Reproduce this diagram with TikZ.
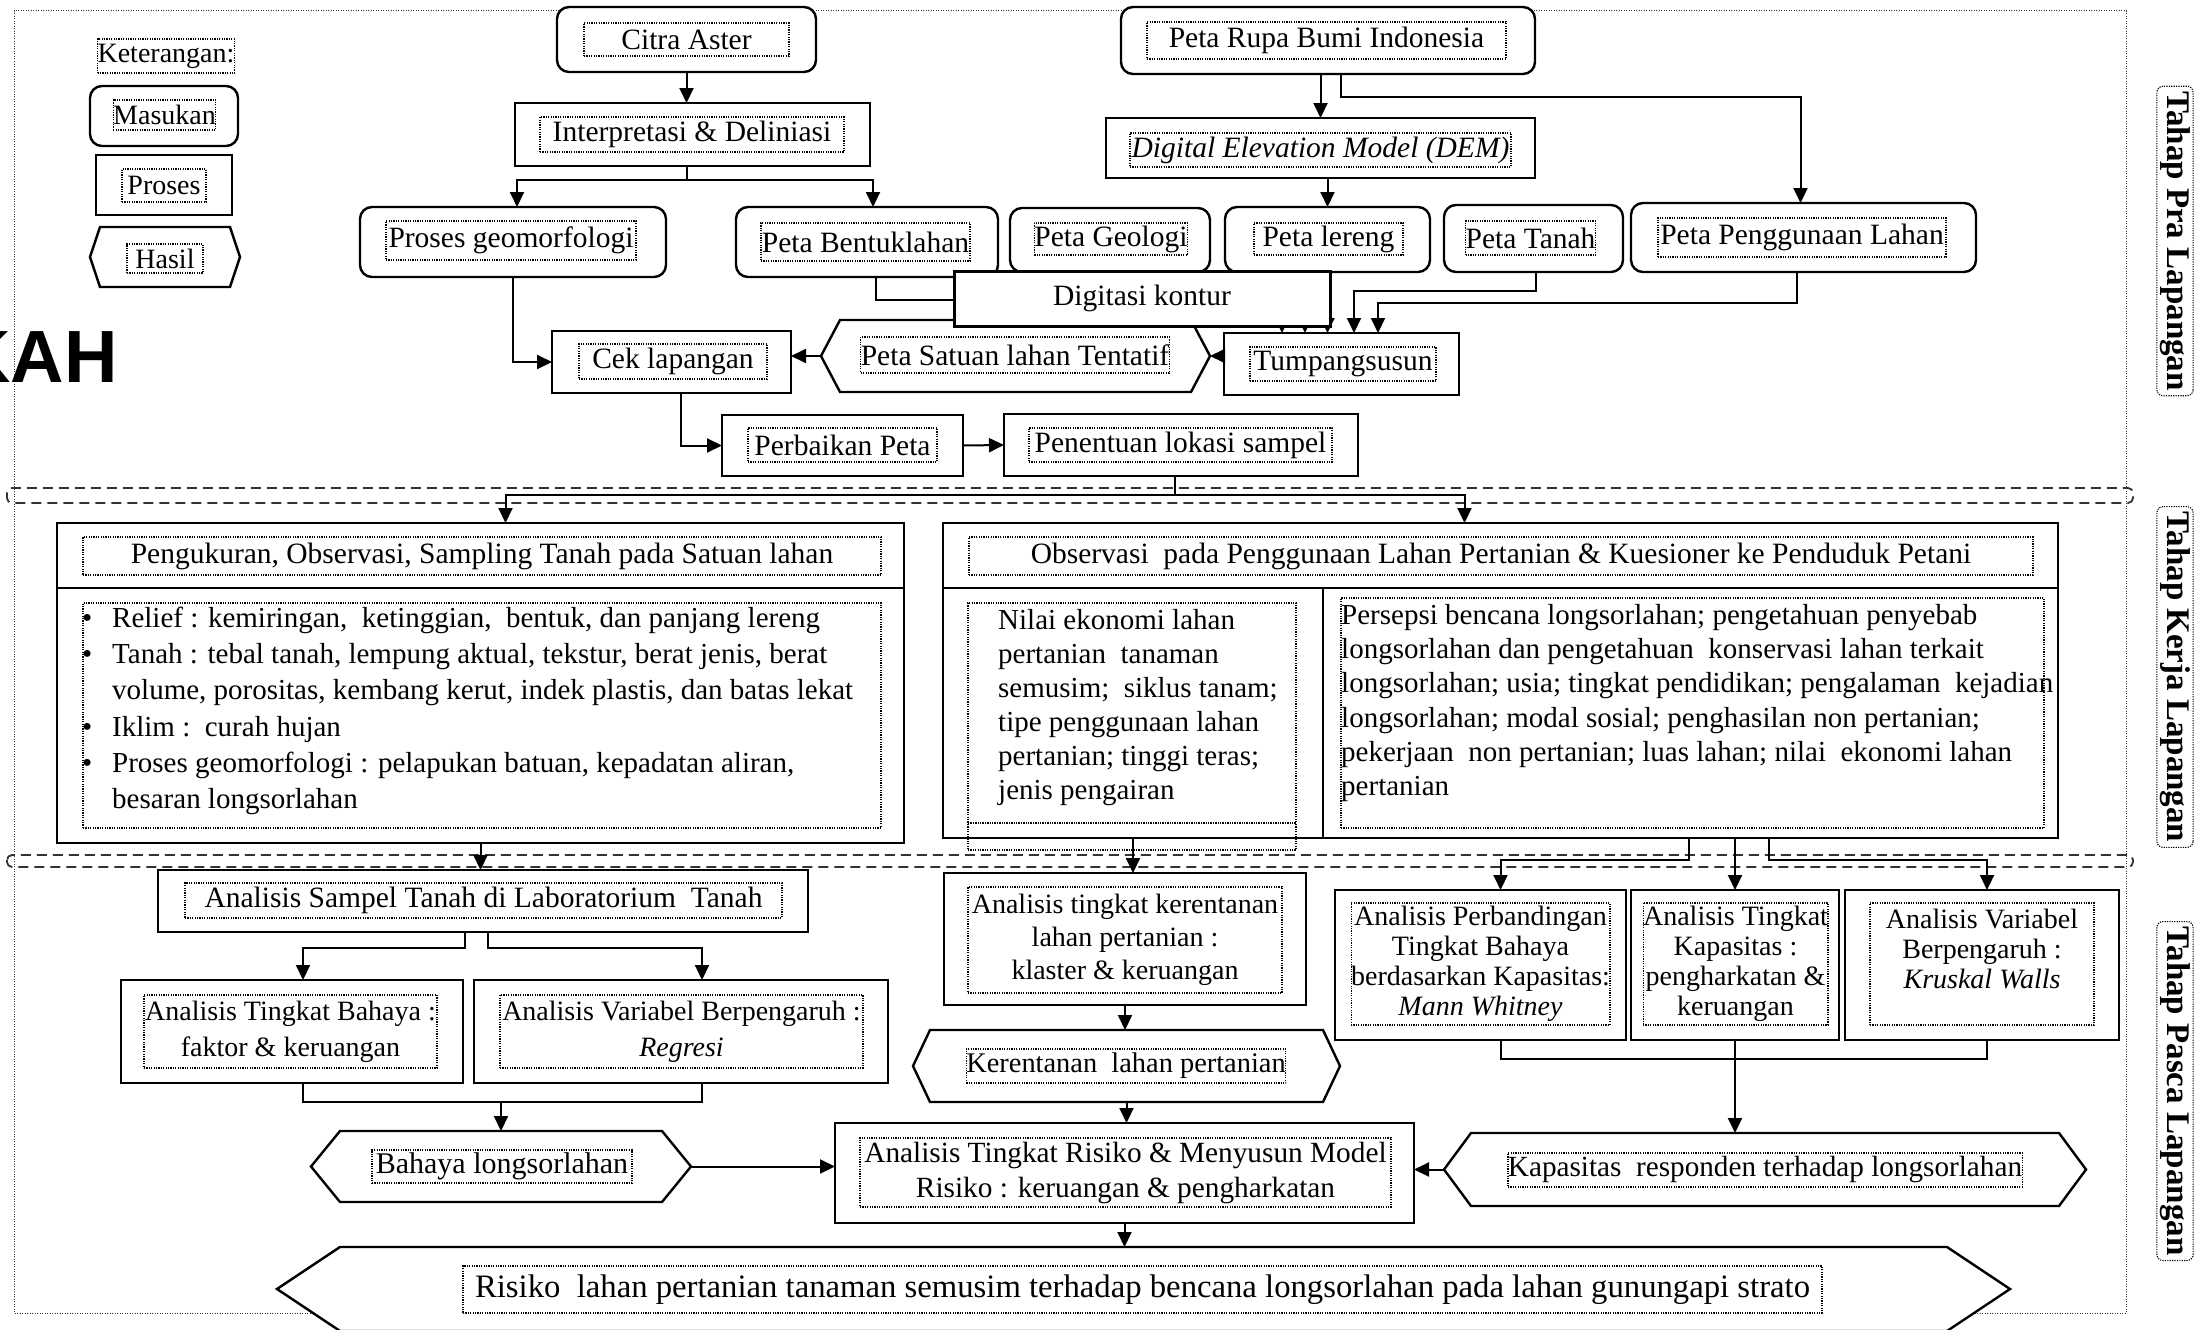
\documentclass[tikz,border=0pt]{standalone}
\usepackage{fontspec}
\setmainfont{Liberation Serif}
\newfontfamily\kahfont{Liberation Sans}
\usetikzlibrary{arrows.meta,calc}
\newcommand\fs{\fontsize{29.5}{35}\selectfont}
\newcommand\fsm{\fontsize{28}{34}\selectfont}
\newcommand\hexa[2]{\filldraw[fill=white, line width=2.4pt, line join=miter] (#1.west) -- ([xshift=#2]#1.north west) -- ([xshift=-#2]#1.north east) -- (#1.east) -- ([xshift=-#2]#1.south east) -- ([xshift=#2]#1.south west) -- cycle;}
\begin{document}
\begin{tikzpicture}[x=1pt,y=-1pt,
  bx/.style args={#1/#2/#3/#4}{at={({(#1+#3)/2},{(#2+#4)/2})}, minimum width={(#3)-(#1)}, minimum height={(#4)-(#2)}},
  ob/.style={draw, line width=2.4pt, inner sep=0pt, outer sep=0pt, fill=white},
  rb/.style={ob, rounded corners=12pt},
  hx/.style={inner sep=0pt, outer sep=0pt},
  tf/.style={draw, line width=1.1pt, dash pattern=on 1.2pt off 1.2pt, inner sep=0pt, outer sep=0pt, align=center, font=\fs},
  arr/.style={line width=2pt, -{Triangle[length=15pt,width=14pt]}},
  ln/.style={line width=2pt},
  sepl/.style={line width=1.8pt, dash pattern=on 10pt off 6pt, rounded corners=5pt, black!80},
  bord/.style={line width=1pt, dash pattern=on 1pt off 1.5pt, black!80},
  txt/.style={inner sep=0pt, align=left, anchor=west}
]
\useasboundingbox (0,0) rectangle (2200,1330);
\fill[white] (0,0) rectangle (2200,1330);

% frame and section separators
\draw[bord] (14,11) rectangle (2126,1313);
\draw[sepl] (7,488) rectangle (2133,503);
\draw[sepl] (7,855) rectangle (2133,867);

\begin{scope}
\clip (0,0) rectangle (2200,1330);
\node[font=\kahfont\bfseries\fontsize{74}{74}\selectfont, anchor=base east, inner sep=0pt] (kah) at (118,382) {KAH};
\end{scope}

% section labels
\foreach \nm/\yy/\tt in {tp1/241/{Tahap Pra Lapangan}, tp2/677/{Tahap Kerja Lapangan}, tp3/1091/{Tahap Pasca Lapangan}}
  \node[draw, line width=1.1pt, dash pattern=on 1.2pt off 1.2pt, rounded corners=6pt, rotate=-90,
        font=\bfseries\fontsize{33}{33}\selectfont, inner xsep=5pt, inner ysep=3pt] (\nm) at (2175,\yy) {\tt};

% legend
\node[tf, font=\fsm, bx=98/39/234/73] (ket) {Keterangan:};
\node[rb, bx=90/86/238/146] (lgm) {};
\node[tf, font=\fsm, bx=118/100/211/130] (lgm-t) {Masukan};
\node[ob, bx=96/155/232/215] (lgp) {};
\node[tf, font=\fsm, bx=122/169/206/202] (lgp-t) {Proses};
\node[hx, bx=90/227/240/287] (lgh) {}; \hexa{lgh}{10pt}
\node[tf, font=\fsm, bx=127/244/203/273] (lgh-t) {Hasil};

% top part
\node[rb, bx=557/7/816/72] (citra) {};
\node[tf, bx=584/23/789/56] (citra-t) {Citra Aster};
\node[ob, bx=515/103/870/166] (interp) {};
\node[tf, bx=540/117/844/152] (interp-t) {Interpretasi \& Deliniasi};
\node[rb, bx=360/207/666/277] (prosgeo) {};
\node[tf, bx=386/221/636/260] (prosgeo-t) {Proses geomorfologi};
\node[rb, bx=736/207/998/277] (bentuk) {};
\node[tf, bx=761/223/970/261] (bentuk-t) {Peta Bentuklahan};
\node[rb, bx=1010/208/1210/272] (geologi) {};
\node[tf, bx=1037/223/1185/255] (geologi-t) {Peta Geologi};
\node[rb, bx=1225/207/1430/272] (lereng) {};
\node[tf, bx=1254/223/1403/255] (lereng-t) {Peta lereng};
\node[rb, bx=1444/205/1623/272] (tanah) {};
\node[tf, bx=1466/221/1595/255] (tanah-t) {Peta Tanah};
\node[rb, bx=1631/203/1976/272] (guna) {};
\node[tf, bx=1658/218/1946/257] (guna-t) {Peta Penggunaan Lahan};
\node[rb, bx=1121/7/1535/74] (rbi) {};
\node[tf, bx=1147/22/1506/59] (rbi-t) {Peta Rupa Bumi Indonesia};
\node[ob, bx=1106/118/1535/178] (dem) {};
\node[tf, bx=1130/133/1511/167] (dem-t) {\textit{Digital Elevation Model (DEM)}};
\node[ob, bx=1224/333/1459/395] (tumpang) {};
\node[tf, bx=1250/347/1436/381] (tumpang-t) {Tumpangsusun};
\node[hx, bx=821/320/1210/392] (satuan) {}; \hexa{satuan}{19pt}
\node[tf, bx=881/337/1149/373] (satuan-t) {Peta Satuan lahan Tentatif};
\node[ob, bx=552/331/791/393] (cek) {};
\node[tf, bx=579/344/767/379] (cek-t) {Cek lapangan};
\node[ob, bx=722/415/963/476] (perbaikan) {};
\node[tf, bx=748/428/937/462] (perbaikan-t) {Perbaikan Peta};
\node[ob, bx=1004/414/1358/476] (penentuan) {};
\node[tf, bx=1029/428/1332/462] (penentuan-t) {Penentuan lokasi sampel};

% top connectors
\draw[arr] (citra.south) -- (citra.south |- interp.north);
\draw[ln] (citra.south |- interp.south) -- ++(0,14) coordinate (j1);
\draw[arr] (j1) -| ([xshift=4pt]prosgeo.north);
\draw[arr] (j1) -| ([xshift=6pt]bentuk.north);
\draw[arr] (rbi.south -| dem.north) -- (dem.north);
\draw[arr] ([xshift=13pt]rbi.south) -- ++(0,23) -| ([xshift=-3pt]guna.north);
\draw[arr] (dem.south -| lereng.north) -- (lereng.north);
\draw[arr] ([xshift=9pt]bentuk.south) -- ++(0,23) -| ([xshift=58pt]tumpang.north west);
\draw[arr] (geologi.south) -- ++(0,36) -| ([xshift=81pt]tumpang.north west);
\draw[arr] (lereng.south) -- (lereng.south |- tumpang.north);
\draw[arr] ([xshift=2pt]tanah.south) -- ++(0,19) -| ([xshift=130pt]tumpang.north west);
\draw[arr] ([xshift=-7pt]guna.south) -- ++(0,31) -| ([xshift=154pt]tumpang.north west);
\draw[arr] (tumpang.west |- satuan.east) -- (satuan.east);
\draw[arr] (satuan.west) -- (satuan.west -| cek.east);
\draw[arr] (prosgeo.south) |- (cek.west);
\draw[arr] ([xshift=9pt]cek.south) |- (perbaikan.west);
\draw[arr] (perbaikan.east) -- (penentuan.west);

\node[ob, line width=3pt, bx=954/271/1330/326, font=\fs] (digit) {Digitasi kontur};

% field work part
\node[ob, bx=57/523/904/588] (peng) {};
\node[ob, bx=57/588/904/843] (pengb) {};
\node[tf, bx=83/537/881/575] (peng-t) {Pengukuran, Observasi, Sampling Tanah pada Satuan lahan};
\node[tf, bx=83/603/881/828] (pengb-f) {};
\node[txt, font=\fontsize{29}{36.2}\selectfont] (pengb-t) at (82,711) {%
\makebox[30pt][l]{\textbullet}Relief : kemiringan,\ \ ketinggian,\ \ bentuk, dan panjang lereng\\
\makebox[30pt][l]{\textbullet}Tanah : tebal\ tanah, lempung aktual, tekstur, berat jenis, berat\\
\hspace*{30pt}volume, porositas, kembang kerut, indek plastis, dan batas lekat\\
\makebox[30pt][l]{\textbullet}Iklim :\ \ curah hujan\\
\makebox[30pt][l]{\textbullet}Proses geomorfologi : pelapukan\ batuan, kepadatan\ aliran,\\
\hspace*{30pt}besaran longsorlahan};

\node[ob, bx=943/523/2058/588] (obs) {};
\node[ob, bx=943/588/1323/838] (obsl) {};
\node[ob, bx=1323/588/2058/838] (obsr) {};
\node[tf, bx=969/537/2033/575] (obs-t) {Observasi\ \ pada Penggunaan Lahan Pertanian \& Kuesioner ke Penduduk Petani};
\node[tf, bx=968/603/1296/823] (obsl-f) {};
\node[tf, bx=968/823/1296/850] (obsl-g) {};
\node[txt, font=\fontsize{29}{34}\selectfont] (obsl-t) at (998,708) {Nilai ekonomi lahan\\pertanian\ \ tanaman\\semusim;\ \ siklus tanam;\\tipe penggunaan lahan\\pertanian; tinggi teras;\\jenis pengairan};
\node[tf, bx=1341/598/2044/828] (obsr-f) {};
\node[txt, font=\fontsize{29}{34.2}\selectfont] (obsr-t) at (1341,703) {Persepsi bencana longsorlahan; pengetahuan penyebab\\longsorlahan dan pengetahuan\ \ konservasi lahan terkait\\longsorlahan; usia; tingkat pendidikan; pengalaman\ \ kejadian\\longsorlahan; modal sosial; penghasilan non pertanian;\\pekerjaan\ \ non pertanian; luas lahan; nilai\ \ ekonomi lahan\\pertanian};

% post field part
\node[ob, bx=158/870/808/932] (asam) {};
\node[tf, bx=185/883/782/918] (asam-t) {Analisis Sampel Tanah di Laboratorium\ \ Tanah};
\node[ob, bx=121/980/463/1083] (bahayaA) {};
\node[tf, bx=144/995/437/1068, font=\fontsize{28}{36}\selectfont] (bahayaA-t) {Analisis Tingkat Bahaya :\\faktor \& keruangan};
\node[ob, bx=474/980/888/1083] (varA) {};
\node[tf, bx=500/995/863/1068, font=\fontsize{28}{36}\selectfont] (varA-t) {Analisis Variabel Berpengaruh :\\\textit{Regresi}};
\node[hx, bx=311/1131/691/1202] (bahaya) {}; \hexa{bahaya}{29pt}
\node[tf, bx=372/1150/632/1183, font=\fontsize{30}{35}\selectfont] (bahaya-t) {Bahaya longsorlahan};
\node[ob, bx=835/1123/1414/1223] (risk) {};
\node[tf, bx=860/1138/1391/1207, font=\fontsize{29.3}{35}\selectfont] (risk-t) {Analisis Tingkat Risiko \& Menyusun Model\\Risiko : keruangan \& pengharkatan};
\node[ob, bx=944/873/1306/1005] (kerent) {};
\node[tf, bx=968/887/1282/993, font=\fontsize{28}{33}\selectfont] (kerent-t) {Analisis tingkat kerentanan\\lahan pertanian :\\klaster \& keruangan};
\node[hx, bx=913/1030/1340/1102] (kerhex) {}; \hexa{kerhex}{17pt}
\node[tf, bx=974/1049/1278/1083, font=\fontsize{28.4}{34}\selectfont] (kerhex-t) {Kerentanan\ \ lahan pertanian};
\node[ob, bx=1335/890/1626/1040] (banding) {};
\node[tf, bx=1362/903/1599/1025, font=\fontsize{28}{30}\selectfont] (banding-t) {Analisis Perbandingan\\Tingkat Bahaya\\berdasarkan Kapasitas:\\\textit{Mann Whitney}};
\node[ob, bx=1631/890/1839/1040] (kapas) {};
\node[tf, bx=1658/903/1813/1025, font=\fontsize{28}{30}\selectfont] (kapas-t) {Analisis Tingkat\\Kapasitas :\\pengharkatan \&\\keruangan};
\node[ob, bx=1845/890/2119/1040] (varb) {};
\node[tf, bx=1870/903/2094/1025, font=\fontsize{28}{30}\selectfont] (varb-t) {Analisis Variabel\\Berpengaruh :\\\textit{Kruskal Walls}\\\mbox{}};
\node[hx, bx=1444/1133/2086/1206] (kaphex) {}; \hexa{kaphex}{27pt}
\node[tf, bx=1526/1153/2004/1187, font=\fontsize{29.2}{35}\selectfont] (kaphex-t) {Kapasitas\ \ responden terhadap longsorlahan};
\node[hx, bx=277/1247/2010/1331] (final) {}; \hexa{final}{63pt}
\node[tf, bx=463/1266/1822/1313, font=\fontsize{32.7}{38}\selectfont] (final-t) {Risiko\ \ lahan pertanian tanaman semusim terhadap bencana longsorlahan pada lahan gunungapi strato};

% connectors middle and bottom
\draw[ln] ([xshift=-6pt]penentuan.south) -- ++(0,19) coordinate (j2);
\draw[arr] (j2) -| ([xshift=25pt]peng.north);
\draw[arr] (j2) -| ([xshift=-36pt]obs.north);
\draw[arr] (pengb.south) -- (pengb.south |- asam.north);
\draw[arr] (obsl.south) -- (obsl.south |- kerent.north);
\draw[arr] ([xshift=-2pt]obsr.south) -- ++(0,22) -| ([xshift=20pt]banding.north);
\draw[arr] (obsr.south -| kapas.north) -- (kapas.north);
\draw[arr] ([xshift=78pt]obsr.south) -- ++(0,22) -| ([xshift=5pt]varb.north);
\draw[arr] ([xshift=-18pt]asam.south) -- ++(0,16) -| ([xshift=11pt]bahayaA.north);
\draw[arr] ([xshift=5pt]asam.south) -- ++(0,16) -| ([xshift=21pt]varA.north);
\draw[ln] ([xshift=11pt]bahayaA.south) -- ++(0,19) -| ([xshift=21pt]varA.south);
\draw[arr] ([yshift=29pt]bahaya.north) -- (bahaya.north);
\draw[arr] (bahaya.east) -- (bahaya.east -| risk.west);
\draw[arr] (kerent.south) -- (kerent.south |- kerhex.north);
\draw[arr] (kerhex.south) -- (kerhex.south |- risk.north);
\draw[arr] (risk.south) -- (risk.south |- final.north);
\draw[ln] ([xshift=20pt]banding.south) -- ++(0,19) -| ([xshift=5pt]varb.south);
\draw[arr] (kapas.south) -- (kapas.south |- kaphex.north);
\draw[arr] (kaphex.west) -- (kaphex.west -| risk.east);
\end{tikzpicture}
\end{document}
